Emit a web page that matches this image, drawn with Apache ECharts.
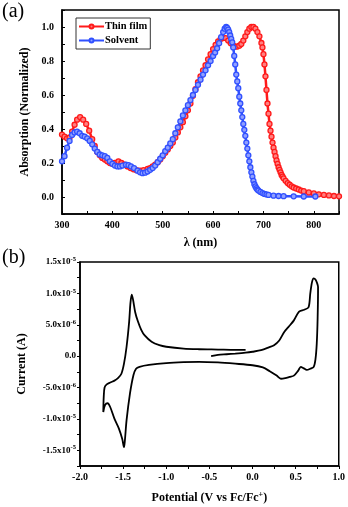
<!DOCTYPE html>
<html>
<head>
<meta charset="utf-8">
<script src="https://cdn.jsdelivr.net/npm/echarts@6/dist/echarts.min.js"></script>
<style>html,body{margin:0;padding:0;background:#fff}#c{width:348px;height:507px}</style>
</head>
<body>
<div id="c"></div>
<script>
// ---- Panel (a): absorption ----
const filmWl = [300,305,310,315,320,325,330,336,342,348,354,360,365,370,375,380,385,390,395,400,405,412,418,424,430,436,442,448,455,462,470,475,480,485,490,495,500,505,510,515,520,525,530,535,540,545,550,555,560,565,570,575,580,585,590,595,600,605,610,615,620,625,630,635,640,644,648,652,656,660,664,668,672,676,680,684,688,692,696,698,700,702,704,706,708,710,712,714,716,718,720,722,724,726,728,730,732,734,736,738,740,744,748,752,756,760,765,770,775,780,790,800,810,820,830,840,850];
const filmAbs = [0.367,0.355,0.345,0.35,0.385,0.425,0.455,0.47,0.455,0.43,0.39,0.34,0.30,0.265,0.245,0.23,0.22,0.21,0.20,0.195,0.20,0.21,0.2,0.19,0.18,0.17,0.163,0.158,0.155,0.158,0.165,0.17,0.18,0.19,0.205,0.22,0.24,0.26,0.28,0.30,0.32,0.35,0.38,0.41,0.44,0.475,0.51,0.55,0.595,0.635,0.675,0.71,0.745,0.775,0.81,0.84,0.87,0.895,0.915,0.93,0.935,0.935,0.92,0.905,0.89,0.885,0.885,0.89,0.90,0.92,0.945,0.97,0.99,1.0,1.0,0.99,0.97,0.945,0.906,0.88,0.84,0.78,0.71,0.63,0.55,0.49,0.43,0.39,0.355,0.32,0.29,0.265,0.24,0.215,0.195,0.175,0.16,0.145,0.13,0.12,0.11,0.095,0.082,0.072,0.063,0.056,0.05,0.044,0.038,0.034,0.027,0.021,0.016,0.012,0.009,0.006,0.004];
const solvWl = [300,305,310,315,320,325,330,335,340,345,350,355,360,365,370,375,380,385,390,395,400,405,410,415,420,427,432,437,443,450,455,460,465,470,475,480,485,490,495,500,505,510,515,520,525,530,535,540,545,550,555,560,565,570,575,580,585,590,595,600,604,608,612,616,620,623,626,628,630,632,634,636,638,640,642,644,646,648,650,652,654,656,658,660,662,664,666,668,670,672,674,676,678,680,682,684,686,688,690,694,698,702,706,710,720,730,740,760,780,803];
const solvAbs = [0.21,0.24,0.29,0.33,0.365,0.38,0.385,0.375,0.36,0.355,0.345,0.33,0.31,0.285,0.265,0.25,0.245,0.24,0.23,0.21,0.195,0.185,0.18,0.18,0.185,0.19,0.188,0.18,0.17,0.155,0.145,0.14,0.143,0.15,0.16,0.17,0.185,0.205,0.225,0.245,0.27,0.29,0.315,0.34,0.375,0.41,0.445,0.48,0.51,0.54,0.57,0.60,0.63,0.66,0.69,0.72,0.745,0.775,0.80,0.83,0.85,0.875,0.905,0.94,0.97,0.99,1.0,0.995,0.985,0.97,0.95,0.93,0.91,0.88,0.83,0.78,0.72,0.68,0.64,0.59,0.55,0.51,0.47,0.43,0.395,0.36,0.32,0.285,0.245,0.21,0.175,0.145,0.12,0.095,0.075,0.062,0.052,0.044,0.038,0.03,0.023,0.018,0.015,0.012,0.008,0.006,0.005,0.004,0.003,0.003];

// ---- Panel (b): cyclic voltammogram (current in units of 1e-6 A) ----
const cvPotential = [-0.48,-0.4,-0.3,-0.2,-0.08,0.0,0.1,0.19,0.25,0.31,0.37,0.42,0.48,0.54,0.6,0.65,0.67,0.69,0.71,0.73,0.75,0.76,0.755,0.745,0.73,0.71,0.67,0.63,0.59,0.56,0.53,0.48,0.43,0.38,0.33,0.28,0.2,0.12,0.0,-0.2,-0.4,-0.62,-0.8,-1.0,-1.2,-1.31,-1.35,-1.38,-1.42,-1.46,-1.48,-1.49,-1.51,-1.55,-1.6,-1.65,-1.68,-1.71,-1.73,-1.725,-1.715,-1.69,-1.65,-1.6,-1.56,-1.52,-1.49,-1.46,-1.43,-1.415,-1.40,-1.385,-1.36,-1.33,-1.29,-1.25,-1.17,-1.08,-1.0,-0.8,-0.62,-0.4,-0.2,-0.08];
const cvCurrent = [0.0,0.2,0.3,0.4,0.55,0.7,0.95,1.4,1.75,2.5,3.9,4.7,5.7,7.1,7.4,7.8,10.0,11.8,12.4,12.2,11.6,11.0,6.0,2.0,-0.5,-1.7,-2.0,-2.2,-1.9,-1.7,-2.3,-3.1,-3.3,-3.5,-3.6,-3.1,-2.4,-1.8,-1.45,-1.2,-1.0,-0.9,-0.95,-1.1,-1.4,-1.7,-2.0,-3.0,-5.9,-10.2,-13.5,-14.5,-13.2,-11.5,-10.0,-8.1,-7.5,-7.8,-8.9,-6.5,-5.0,-4.5,-4.2,-3.9,-3.5,-2.8,-1.2,1.5,5.5,8.5,9.8,9.0,7.0,5.6,4.2,3.3,2.3,1.75,1.5,1.2,1.1,1.05,1.0,1.0];

const FONT = 'Liberation Serif';
const zip = (a, b) => a.map((v, i) => [v, b[i]]);
const txt = {fontFamily: FONT, fontWeight: 'bold', color: '#000'};
const axLine = {onZero: false, lineStyle: {color: '#000', width: 1.5}};

const chart = echarts.init(document.getElementById('c'), null, {renderer: 'canvas'});
chart.setOption({
  animation: false,
  backgroundColor: '#fff',
  graphic: [
    {type: 'text', left: 2, top: 2, style: {text: '(a)', font: '20px "Liberation Serif"', fill: '#000'}},
    {type: 'text', left: 2, top: 248, style: {text: '(b)', font: '20px "Liberation Serif"', fill: '#000'}}
  ],
  legend: {
    data: ['Thin film', 'Solvent'],
    orient: 'vertical',
    left: 76, top: 18,
    padding: [3, 3, 3, 2],
    itemGap: 3,
    itemWidth: 25, itemHeight: 5,
    borderColor: '#333', borderWidth: 1,
    textStyle: Object.assign({fontSize: 10.5, padding: [0, 0, 0, -4]}, txt)
  },
  grid: [
    {left: 62, top: 10, right: 9, height: 204, show: true, borderColor: '#000', borderWidth: 1.5},
    {left: 80, top: 262, right: 9, height: 204, show: true, borderColor: '#000', borderWidth: 1.5}
  ],
  xAxis: [
    {
      gridIndex: 0, type: 'value', min: 300, max: 850, interval: 50,
      name: 'λ (nm)', nameLocation: 'middle', nameGap: 23,
      nameTextStyle: Object.assign({fontSize: 12}, txt),
      axisLine: axLine,
      axisTick: {inside: true, length: 3, lineStyle: {color: '#000'}},
      splitLine: {show: false},
      axisLabel: Object.assign({fontSize: 10, margin: 6, formatter: v => (v % 100 === 0 ? String(v) : '')}, txt)
    },
    {
      gridIndex: 1, type: 'value', min: -2, max: 1, interval: 0.25,
      name: 'Potential (V vs Fc/Fc{sup|+})', nameLocation: 'middle', nameGap: 25,
      nameTextStyle: Object.assign({fontSize: 12, rich: {sup: Object.assign({fontSize: 8, verticalAlign: 'top', padding: [0, 0, 6, 0]}, txt)}}, txt),
      axisLine: axLine,
      axisTick: {length: 3, lineStyle: {color: '#000'}},
      splitLine: {show: false},
      axisLabel: Object.assign({fontSize: 10, margin: 6, formatter: v => (Math.abs(Math.round(v * 100) % 50) === 0 ? v.toFixed(1) : '')}, txt)
    }
  ],
  yAxis: [
    {
      gridIndex: 0, type: 'value', min: -0.1, max: 1.1, interval: 0.1,
      name: 'Absorption (Normalized)', nameLocation: 'middle', nameGap: 31,
      nameTextStyle: Object.assign({fontSize: 12}, txt),
      axisLine: axLine,
      axisTick: {inside: true, length: 3, lineStyle: {color: '#000'}},
      splitLine: {show: false},
      axisLabel: Object.assign({fontSize: 10, margin: 8, formatter: v => {
        const k = Math.round(v * 10);
        return (k >= 0 && k % 2 === 0 && k <= 10) ? (k / 10).toFixed(1) : '';
      }}, txt)
    },
    {
      gridIndex: 1, type: 'value', min: -17.5, max: 15, interval: 2.5,
      name: 'Current (A)', nameLocation: 'middle', nameGap: 52,
      nameTextStyle: Object.assign({fontSize: 12}, txt),
      axisLine: axLine,
      axisTick: {length: 3, lineStyle: {color: '#000'}},
      splitLine: {show: false},
      axisLabel: Object.assign({
        fontSize: 9, margin: 4,
        formatter: v => {
          const k = Math.round(v * 10);
          if (k % 50 !== 0) return '';
          if (k === 0) return '0.0';
          const big = Math.abs(k) >= 100;
          const m = big ? v / 10 : v;
          const e = big ? '-5' : '-6';
          return m.toFixed(1) + 'x10{sup|' + e + '}';
        },
        rich: {sup: Object.assign({fontSize: 6.5, verticalAlign: 'top', padding: [0, 0, 5, 0]}, txt)}
      }, txt)
    }
  ],
  series: [
    {
      name: 'Thin film', type: 'line', xAxisIndex: 0, yAxisIndex: 0,
      data: zip(filmWl, filmAbs),
      symbol: 'circle', symbolSize: 5, showSymbol: true,
      lineStyle: {color: '#ff1a1a', width: 2.5},
      itemStyle: {color: '#ff8080', borderColor: '#ff1a1a', borderWidth: 1.3},
      emphasis: {disabled: true}
    },
    {
      name: 'Solvent', type: 'line', xAxisIndex: 0, yAxisIndex: 0,
      data: zip(solvWl, solvAbs),
      symbol: 'circle', symbolSize: 5, showSymbol: true,
      lineStyle: {color: '#3050ff', width: 2.5},
      itemStyle: {color: '#90a0ff', borderColor: '#3050ff', borderWidth: 1.3},
      emphasis: {disabled: true}
    },
    {
      name: 'CV', type: 'line', xAxisIndex: 1, yAxisIndex: 1,
      data: zip(cvPotential, cvCurrent),
      showSymbol: false, smooth: 0.3,
      lineStyle: {color: '#000', width: 1.8},
      emphasis: {disabled: true}
    }
  ]
});
</script>
</body>
</html>
